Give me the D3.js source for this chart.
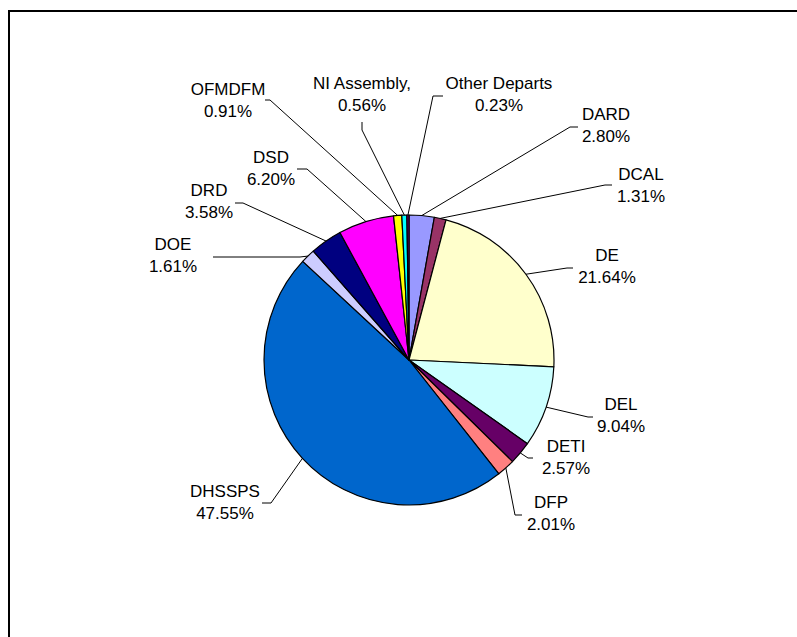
<!DOCTYPE html>
<html lang="en">
<head>
    <meta charset="UTF-8">
    <script src="https://d3js.org/d3.v7.min.js"></script>
    <title>Departmental share</title>
    <style>
        html, body {
            margin: 0;
            padding: 0;
            background: white;
            overflow: hidden;
        }
        text {
            font-family: "Liberation Sans", Arial, sans-serif;
            font-size: 17px;
            fill: #000;
        }
    </style>
</head>
<body>
    <script>
        // DATA
        const departments = ["DARD", "DCAL", "DE", "DEL", "DETI", "DFP", "DHSSPS",
                             "DOE", "DRD", "DSD", "OFMDFM", "NI Assembly,", "Other Departs"];
        const shares = [2.80, 1.31, 21.64, 9.04, 2.57, 2.01, 47.55, 1.61, 3.58, 6.20, 0.91, 0.56, 0.23];
        const sliceColors = ["#9999FF", "#993366", "#FFFFCC", "#CCFFFF", "#660066", "#FF8080",
                             "#0066CC", "#CCCCFF", "#000080", "#FF00FF", "#FFFF00", "#00FFFF", "#800080"];

        // label layout: text centre + first baseline, then leader elbow and end
        const labelPos = [
            [606, 120], [641, 180], [607, 261], [621, 410], [566, 452], [551, 508],
            [225, 497], [173, 250], [209, 196], [271, 163], [228, 95], [362, 89], [499, 89]
        ];
        const leaderElbow = [
            [570, 127], [605, 185], [567, 268], [588, 417], [528, 458], [515, 515],
            [271, 503], [300, 257], [243, 203], [307, 169], [270, 100], [362, 130], [433, 96]
        ];
        const leaderEnd = [
            [578, 127], [612, 185], [573, 268], [593, 417], [533, 458], [522, 515],
            [262, 503], [213, 257], [235, 203], [297, 169], [265, 100], [362, 122], [443, 96]
        ];

        const width = 797, height = 637;
        const cx = 409, cy = 360, radius = 145;

        const svg = d3.select('body')
          .append('svg')
          .attr('width', width)
          .attr('height', height);

        // chart frame (runs off the right and bottom edge)
        svg.append('rect')
          .attr('x', 9)
          .attr('y', 11)
          .attr('width', 820)
          .attr('height', 660)
          .attr('fill', 'white')
          .attr('stroke', '#000')
          .attr('stroke-width', 2);

        const rows = departments.map((name, i) => ({
            name: name,
            value: shares[i],
            color: sliceColors[i],
            i: i
        }));

        const pie = d3.pie()
          .sort(null)
          .value(d => d.value);

        const arc = d3.arc()
          .innerRadius(0)
          .outerRadius(radius);

        const arcs = pie(rows);

        const g = svg.append('g')
          .attr('transform', `translate(${cx},${cy})`);

        g.selectAll('path')
          .data(arcs)
          .join('path')
          .attr('d', arc)
          .attr('fill', d => d.data.color)
          .attr('stroke', '#000')
          .attr('stroke-width', 1.2)
          .attr('stroke-linejoin', 'round');

        // leader lines from the slice edge
        const line = d3.line();
        svg.append('g')
          .selectAll('path')
          .data(arcs)
          .join('path')
          .attr('d', d => {
              const mid = (d.startAngle + d.endAngle) / 2;
              const start = [cx + radius * Math.sin(mid), cy - radius * Math.cos(mid)];
              return line([start, leaderElbow[d.data.i], leaderEnd[d.data.i]]);
          })
          .attr('fill', 'none')
          .attr('stroke', '#000')
          .attr('stroke-width', 1);

        // labels
        const labels = svg.append('g')
          .selectAll('text')
          .data(rows)
          .join('text')
          .attr('text-anchor', 'middle')
          .attr('x', d => labelPos[d.i][0])
          .attr('y', d => labelPos[d.i][1]);

        labels.append('tspan')
          .attr('x', d => labelPos[d.i][0])
          .text(d => d.name);

        labels.append('tspan')
          .attr('x', d => labelPos[d.i][0])
          .attr('dy', 22)
          .text(d => d.value.toFixed(2) + '%');
    </script>
</body>
</html>
